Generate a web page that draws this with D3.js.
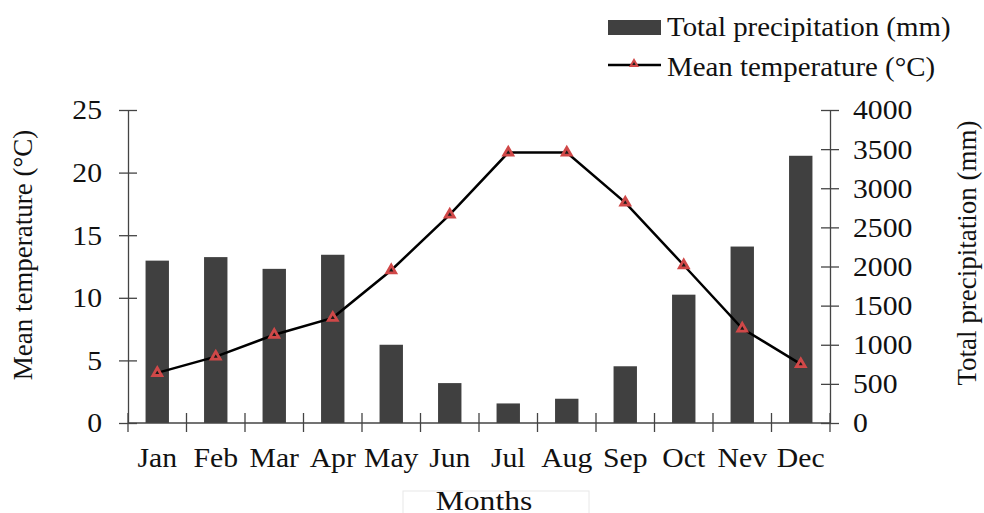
<!DOCTYPE html>
<html><head><meta charset="utf-8">
<script src="https://cdn.jsdelivr.net/npm/d3@7"></script>
<style>
html,body{margin:0;padding:0;background:#fff;}
text{font-family:"Liberation Serif","Times New Roman",serif;fill:#111;}
</style></head>
<body><svg id="chart" width="984" height="513"></svg>
<script>
const months = ["Jan","Feb","Mar","Apr","May","Jun","Jul","Aug","Sep","Oct","Nev","Dec"];
const precipitation = [2075, 2120, 1970, 2150, 1000, 510, 250, 310, 725, 1640, 2255, 3415];
const temperature = [4.0, 5.3, 7.05, 8.4, 12.2, 16.65, 21.6, 21.6, 17.6, 12.6, 7.55, 4.7];
const tempTicks = [0, 5, 10, 15, 20, 25];
const precTicks = [0, 500, 1000, 1500, 2000, 2500, 3000, 3500, 4000];

const svg = d3.select("#chart");
const pLeft = 128, pRight = 830, pTop = 110, pBottom = 423;
const SX = 1.1, FS = 27;

const x = d3.scaleBand().domain(months).range([pLeft, pRight]).paddingInner(0.6).paddingOuter(0.3);
const yT = d3.scaleLinear().domain([0, 25]).range([pBottom, pTop]);
const yP = d3.scaleLinear().domain([0, 4000]).range([pBottom, pTop]);

// bars
svg.append("g").selectAll("rect").data(months).join("rect")
  .attr("x", d => x(d)).attr("width", x.bandwidth())
  .attr("y", (d, i) => yP(precipitation[i]))
  .attr("height", (d, i) => pBottom - yP(precipitation[i]))
  .attr("fill", "#404040");

// axes
const axCol = "#444";
const gL = svg.append("g").attr("transform", `translate(${pLeft},0)`)
  .call(d3.axisLeft(yT).tickValues(tempTicks).tickFormat(d3.format("d")).tickSizeOuter(0).tickSizeInner(9));
gL.selectAll(".tick line").attr("x1", -9).attr("x2", 9);
gL.selectAll(".tick text").attr("x", -26 / SX).attr("transform", `scale(${SX},1)`)
  .style("font-size", FS + "px").attr("dy", "0.33em");

const gR = svg.append("g").attr("transform", `translate(${pRight},0)`)
  .call(d3.axisRight(yP).tickValues(precTicks).tickFormat(d3.format("d")).tickSizeOuter(0).tickSizeInner(9));
gR.selectAll(".tick line").attr("x1", -9).attr("x2", 9);
gR.selectAll(".tick text").attr("x", 23 / SX).attr("transform", `scale(${SX},1)`)
  .style("font-size", FS + "px").attr("dy", "0.33em");

const gB = svg.append("g").attr("transform", `translate(0,${pBottom})`)
  .call(d3.axisBottom(x).tickSize(0).tickSizeOuter(0));
gB.select(".domain").remove();
gB.selectAll(".tick text").attr("y", 44).attr("dy", 0)
  .attr("transform", `scale(${SX},1)`)
  .style("font-size", FS + "px");
gB.append("line").attr("x1", pLeft).attr("x2", pRight).attr("y1", 0).attr("y2", 0)
  .attr("stroke", axCol).attr("stroke-width", 1.3);
const step = x.step();
const x0 = x(months[0]) - x.paddingOuter() * step;
gB.selectAll(".sep").data(d3.range(months.length + 1)).join("line")
  .attr("x1", i => x0 + i * step).attr("x2", i => x0 + i * step)
  .attr("y1", -10).attr("y2", 9).attr("stroke", axCol).attr("stroke-width", 1.3);

[gL, gR].forEach(g => {
  g.select(".domain").attr("stroke", axCol).attr("stroke-width", 1.3);
  g.selectAll(".tick line").attr("stroke", axCol).attr("stroke-width", 1.3);
});

// line
const line = d3.line().x((d, i) => x(months[i]) + x.bandwidth() / 2).y(d => yT(d));
svg.append("path").datum(temperature).attr("d", line)
  .attr("fill", "none").attr("stroke", "#000").attr("stroke-width", 2.5);
const tri = d3.symbol().type(d3.symbolTriangle);
svg.append("g").selectAll("path").data(temperature).join("path")
  .attr("transform", (d, i) => `translate(${x(months[i]) + x.bandwidth() / 2},${yT(d)})`)
  .attr("d", tri.size(34)()).attr("fill", "#1a1a1a").attr("stroke", "#d04848").attr("stroke-width", 2.8);

// axis titles
svg.append("text").attr("transform", "translate(32,255) rotate(-90)")
  .attr("text-anchor", "middle").style("font-size", FS + "px").text("Mean temperature (°C)");
svg.append("text").attr("transform", "translate(976,253) rotate(-90)")
  .attr("text-anchor", "middle").style("font-size", FS + "px").text("Total precipitation (mm)");

// Months title with faint box
svg.append("rect").attr("x", 403).attr("y", 491).attr("width", 186).attr("height", 30)
  .attr("fill", "none").attr("stroke", "#e8e8e8").attr("stroke-width", 1);
svg.append("text").attr("transform", `translate(484,510) scale(1.13,1)`)
  .attr("text-anchor", "middle").style("font-size", "28px").text("Months");

// legend
const lg = svg.append("g");
lg.append("rect").attr("x", 608).attr("y", 20).attr("width", 53).attr("height", 15).attr("fill", "#404040");
lg.append("text").attr("transform", `translate(667,36) scale(1.07,1)`).style("font-size", FS + "px")
  .text("Total precipitation (mm)");
lg.append("line").attr("x1", 608).attr("x2", 661).attr("y1", 65).attr("y2", 65)
  .attr("stroke", "#000").attr("stroke-width", 2.5);
lg.append("path").attr("transform", "translate(634,64)").attr("d", tri.size(20)())
  .attr("fill", "#1a1a1a").attr("stroke", "#d04848").attr("stroke-width", 2);
lg.append("text").attr("transform", `translate(667,76) scale(1.07,1)`).style("font-size", FS + "px")
  .text("Mean temperature (°C)");
</script></body></html>
